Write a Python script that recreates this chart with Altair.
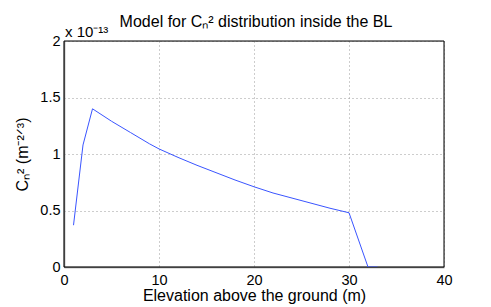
import altair as alt
import pandas as pd

# Elevation (m) and Cn^2 (x 1e-13 m^-2/3)
elevation = [1, 2, 3, 4, 5, 6, 7, 8, 9, 10, 12, 14, 16, 18, 20, 22, 24, 26, 28, 30, 32, 33]
cn2 = [0.37, 1.08, 1.40, 1.345, 1.29, 1.24, 1.19, 1.14, 1.09, 1.045, 0.97, 0.90, 0.835,
       0.77, 0.71, 0.655, 0.61, 0.565, 0.52, 0.48, 0.0, 0.0]

x_ticks = [0, 10, 20, 30, 40]
y_ticks = [0, 0.5, 1, 1.5, 2]

df = pd.DataFrame({"h": elevation, "c": cn2})

FONT = "Liberation Sans"

line = alt.Chart(df).mark_line(color="#3a55ff", strokeWidth=1, clip=True).encode(
    x=alt.X("h:Q", scale=alt.Scale(domain=[0, 40], nice=False),
            axis=alt.Axis(values=x_ticks, title="Elevation above the ground (m)",
                          format="d", grid=True, gridDash=[1, 3], gridColor="#9a9a9a",
                          domainColor="#808080", domainWidth=1.5, tickSize=0,
                          labelFlush=False, labelOverlap=False,
                          labelPadding=6, titlePadding=1, labelFontSize=14.5,
                          titleFontSize=16, labelFont=FONT, titleFont=FONT,
                          labelColor="black", titleColor="black", titleFontWeight="normal")),
    y=alt.Y("c:Q", scale=alt.Scale(domain=[0, 2], nice=False),
            axis=alt.Axis(values=y_ticks, title="Cₙ² (m⁻²ᐟ³)", format="~g",
                          grid=True, gridDash=[1, 3], gridColor="#9a9a9a",
                          domainColor="#808080", domainWidth=1.5, tickSize=0,
                          labelFlush=False, labelOverlap=False,
                          labelPadding=4, titlePadding=9, labelFontSize=14.5,
                          titleFontSize=16, labelFont=FONT, titleFont=FONT,
                          labelColor="black", titleColor="black", titleFontWeight="normal")),
)

frame = alt.Chart(pd.DataFrame({"k": [0]})).mark_rect(
    fill="transparent", stroke="black", strokeWidth=1
).encode(x=alt.value(0), x2=alt.value(380), y=alt.value(0), y2=alt.value(226))

exp_label = alt.Chart(pd.DataFrame({"t": ["x 10⁻¹³"]})).mark_text(
    align="left", baseline="bottom", fontSize=15, font=FONT, color="black"
).encode(text="t:N", x=alt.value(1), y=alt.value(-1))

title_label = alt.Chart(pd.DataFrame({"t": ["Model for Cₙ² distribution inside the BL"]})).mark_text(
    align="center", baseline="bottom", fontSize=16, font=FONT, color="black"
).encode(text="t:N", x=alt.value(192), y=alt.value(-11))

chart = alt.layer(frame, line, exp_label, title_label).properties(
    width=380, height=226,
    autosize=alt.AutoSizeParams(type="none"),
    padding={"left": 56, "top": 33, "right": 31, "bottom": 40},
).configure_view(stroke="black", strokeWidth=1).configure(background="white")

chart.save("out.html", embed_options={"renderer": "svg", "actions": False})
